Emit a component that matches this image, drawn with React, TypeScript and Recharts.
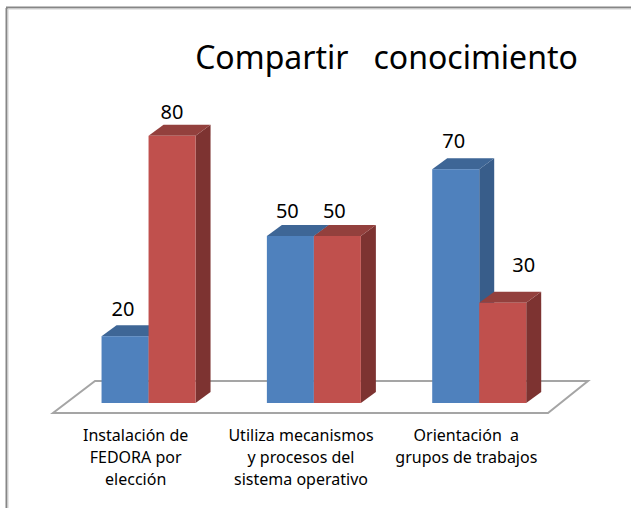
import React from 'react';
import { BarChart, Bar, XAxis, YAxis, LabelList } from 'recharts';

// ---- data ----
const categories = [
  'Instalación de FEDORA por elección',
  'Utiliza mecanismos y procesos del sistema operativo',
  'Orientación  a grupos de trabajos',
];
const tickLabelLines = [
  ['Instalación de', 'FEDORA por', 'elección'],
  ['Utiliza mecanismos', 'y procesos del', 'sistema operativo'],
  ['Orientación  a', 'grupos de trabajos'],
];
const seriesBlue = [20, 50, 70];
const seriesRed = [80, 50, 30];
const titleText = 'Compartir   conocimiento';

const data = categories.map((name, i) => ({ name, blue: seriesBlue[i], red: seriesRed[i] }));

// ---- layout / style ----
const W = 631;
const H = 508;
const MARGIN = { top: 69, left: 66, right: 69, bottom: 45 };
const XAXIS_H = 60;
const FONT = '"Noto Sans", "DejaVu Sans", sans-serif';
const DEPTH_X = 15;
const DEPTH_Y = -11;

const BLUE = { front: '#4F81BD', top: '#3E6696', side: '#385D8A' };
const RED = { front: '#C0504D', top: '#93403D', side: '#7D3331' };

const labelOffsetsBlue = [[-2, -27], [-3, -25], [-2, -28]];
const labelOffsetsRed = [[0, -24], [-3, -25], [21, -38]];

const plotLeft = MARGIN.left;
const plotRight = W - MARGIN.right;
const plotBottom = H - MARGIN.bottom - XAXIS_H;

const make3DShape = (c: { front: string; top: string; side: string }) => (props: any) => {
  const { x, y, width, height } = props;
  if (width == null || height == null) return null;
  const x2 = x + width;
  const yb = y + height;
  const top = `M${x},${y} L${x2},${y} L${x2 + DEPTH_X},${y + DEPTH_Y} L${x + DEPTH_X},${y + DEPTH_Y} Z`;
  const side = `M${x2},${y} L${x2 + DEPTH_X},${y + DEPTH_Y} L${x2 + DEPTH_X},${yb + DEPTH_Y} L${x2},${yb} Z`;
  return (
    <g>
      <path d={side} fill={c.side} />
      <path d={top} fill={c.top} />
      <rect x={x} y={y} width={width} height={height} fill={c.front} />
    </g>
  );
};

const makeLabel = (offsets: number[][]) => (props: any) => {
  const { x, y, width, value, index } = props;
  const off = offsets[index] || [0, -25];
  return (
    <text
      x={x + width / 2 + off[0]}
      y={y + off[1] + 7}
      textAnchor="middle"
      fontFamily={FONT}
      fontSize={20}
      fill="#000"
    >
      {value}
    </text>
  );
};

const CategoryTick = (props: any) => {
  const { x, y, payload } = props;
  const lines = tickLabelLines[payload.index] || [];
  return (
    <text textAnchor="middle" fontFamily={FONT} fontSize={16} fill="#000" style={{ whiteSpace: 'pre' }}>
      {lines.map((l, i) => (
        <tspan key={i} x={x - 13} y={y + 38 + i * 22}>
          {l}
        </tspan>
      ))}
    </text>
  );
};

export default function App() {
  const floor = [
    [plotLeft - 13, plotBottom + 10],
    [plotRight - 14, plotBottom + 10],
    [plotRight + 26, plotBottom - 22],
    [plotLeft + 29, plotBottom - 22],
  ];
  const floorPath = 'M' + floor.map((p) => p.join(',')).join(' L') + ' Z';
  return (
    <div style={{ position: 'absolute', left: 0, top: 0, width: W, height: H, background: '#fff', overflow: 'hidden' }}>
      <svg width={W} height={H} style={{ position: 'absolute', left: 0, top: 0 }}>
        <line x1={6.5} y1={8} x2={6.5} y2={H} stroke="#868686" strokeWidth={2} />
        <line x1={6} y1={7.5} x2={W} y2={7.5} stroke="#868686" strokeWidth={2} />
        <line x1={8} y1={9} x2={8} y2={H} stroke="#d0d0d0" strokeWidth={1} />
        <line x1={8} y1={9} x2={W} y2={9} stroke="#d0d0d0" strokeWidth={1} />
        <path d={floorPath} fill="#fff" stroke="#a5a5a5" strokeWidth={2} strokeLinejoin="miter" />
        <text
          x={386.5}
          y={69}
          textAnchor="middle"
          fontFamily={FONT}
          fontSize={32}
          fill="#000"
          style={{ whiteSpace: 'pre' }}
        >
          {titleText}
        </text>
      </svg>
      <div style={{ position: 'absolute', left: 0, top: 0 }}>
        <BarChart
          width={W}
          height={H}
          data={data}
          margin={MARGIN}
          barCategoryGap="21.5%"
          barGap={0}
        >
          <XAxis
            dataKey="name"
            axisLine={false}
            tickLine={false}
            tickSize={0}
            tickMargin={0}
            height={XAXIS_H}
            interval={0}
            tick={<CategoryTick />}
          />
          <YAxis hide domain={[0, 100]} />
          <Bar dataKey="blue" isAnimationActive={false} shape={make3DShape(BLUE)}>
            <LabelList dataKey="blue" content={makeLabel(labelOffsetsBlue)} />
          </Bar>
          <Bar dataKey="red" isAnimationActive={false} shape={make3DShape(RED)}>
            <LabelList dataKey="red" content={makeLabel(labelOffsetsRed)} />
          </Bar>
        </BarChart>
      </div>
    </div>
  );
}
